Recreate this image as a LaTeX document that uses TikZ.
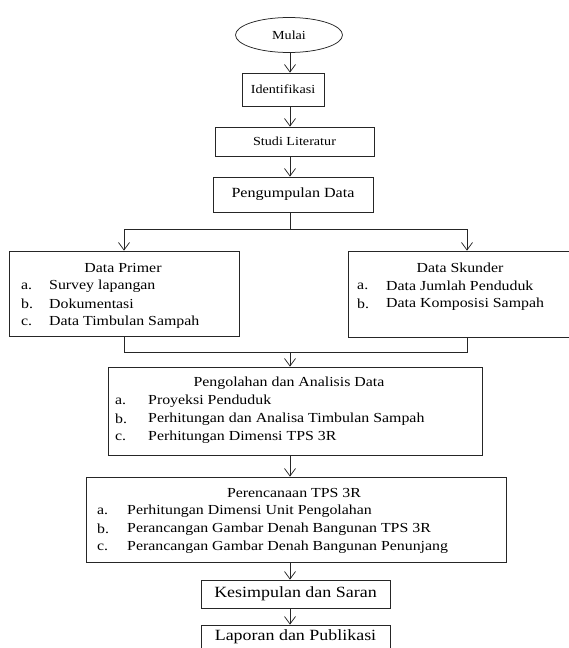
\documentclass[tikz,border=0pt]{standalone}
\usepackage{fontspec}
\setmainfont[FakeStretch=1.15]{Liberation Serif}
\usetikzlibrary{arrows.meta,shapes.geometric}
\tikzset{
  line/.style={draw=black!85, line width=0.75pt},
  arr/.style={line, -{Straight Barb[length=7.5pt,width=11pt,line width=0.75pt]}},
  box/.style={line, rectangle, inner sep=0pt},
  lbl/.style={inner sep=0pt, font=\fontsize{13.8}{15}\selectfont},
  item/.style={lbl, anchor=west},
  small/.style={font=\fontsize{12.3}{14}\selectfont},
  big/.style={font=\fontsize{15.6}{18}\selectfont},
}
\begin{document}
\begin{tikzpicture}[x=1pt,y=-1pt]
\useasboundingbox (0,0) rectangle (569,648);
\coordinate (axis) at (290,0);
% nodes
\node[line, ellipse, minimum width=107pt, minimum height=35pt, inner sep=0pt, small] (mulai) at (289,35) {Mulai};
\node[box, minimum width=82pt, minimum height=33pt, small] (iden) at (283,89.5) {Identifikasi};
\node[box, minimum width=159pt, minimum height=29pt, small] (studi) at (294.5,141.5) {Studi Literatur};
\node[box, minimum width=160pt, minimum height=35pt, font=\fontsize{14}{16}\selectfont]
  (kumpul) at (293,194.5) {Pengumpulan Data};
% Data primer
\node[box, minimum width=230pt, minimum height=85pt] (primer) at (124,293.5) {};
\node[lbl] (primerT) at (123,268) {Data Primer};
\node[item] (pa) at (21,286) {a.};
\node[item] (pb) at (21,304) {b.};
\node[item] (pc) at (21,322) {c.};
\node[item] (pat) at (49,286) {Survey lapangan};
\node[item] (pbt) at (49,304) {Dokumentasi};
\node[item] (pct) at (49,322) {Data Timbulan Sampah};
% Data skunder
\node[box, minimum width=238pt, minimum height=86pt] (skunder) at (467,294) {};
\node[lbl] (skunderT) at (460,268) {Data Skunder};
\node[item] (sa) at (357,286) {a.};
\node[item] (sb) at (357,304) {b.};
\node[item] (sat) at (386,286) {Data Jumlah Penduduk};
\node[item] (sbt) at (386,304) {Data Komposisi Sampah};
% Pengolahan
\node[box, minimum width=374pt, minimum height=88pt] (olah) at (295,411) {};
\node[lbl] (olahT) at (289,383) {Pengolahan dan Analisis Data};
\node[item] (oa) at (115,401) {a.};
\node[item] (ob) at (115,419) {b.};
\node[item] (oc) at (115,437) {c.};
\node[item] (oat) at (148,401) {Proyeksi Penduduk};
\node[item] (obt) at (148,419) {Perhitungan dan Analisa Timbulan Sampah};
\node[item] (oct) at (148,437) {Perhitungan Dimensi TPS 3R};
% Perencanaan
\node[box, minimum width=420pt, minimum height=85pt] (rencana) at (296,519.5) {};
\node[lbl] (rencanaT) at (294,493) {Perencanaan TPS 3R};
\node[item] (ra) at (97,511) {a.};
\node[item] (rb) at (97,529) {b.};
\node[item] (rc) at (97,547) {c.};
\node[item] (rat) at (127,511) {Perhitungan Dimensi Unit Pengolahan};
\node[item] (rbt) at (127,529) {Perancangan Gambar Denah Bangunan TPS 3R};
\node[item] (rct) at (127,547) {Perancangan Gambar Denah Bangunan Penunjang};
% bottom
\node[box, minimum width=189pt, minimum height=28pt, big] (simpul) at (295.5,594) {Kesimpulan dan Saran};
\node[box, minimum width=189pt, minimum height=35pt] (lapor) at (295.5,642.5) {};
\node[inner sep=0pt, big] (laporT) at (295.5,637) {Laporan dan Publikasi};
% connectors
\coordinate (split) at (290,229);
\coordinate (merge) at (290,352);
\draw[arr] (mulai.south -| axis) -- (iden.north -| axis);
\draw[arr] (iden.south -| axis) -- (studi.north -| axis);
\draw[arr] (studi.south -| axis) -- (kumpul.north -| axis);
\draw[line] (kumpul.south -| axis) -- (split);
\draw[arr] (split) -| (primer.north);
\draw[arr] (split) -| (skunder.north);
\draw[line] (primer.south) |- (merge);
\draw[line] (skunder.south) |- (merge);
\draw[arr] (merge) -- (olah.north -| axis);
\draw[arr] (olah.south -| axis) -- (rencana.north -| axis);
\draw[arr] (rencana.south -| axis) -- (simpul.north -| axis);
\draw[arr] (simpul.south -| axis) -- (lapor.north -| axis);
\end{tikzpicture}
\end{document}
